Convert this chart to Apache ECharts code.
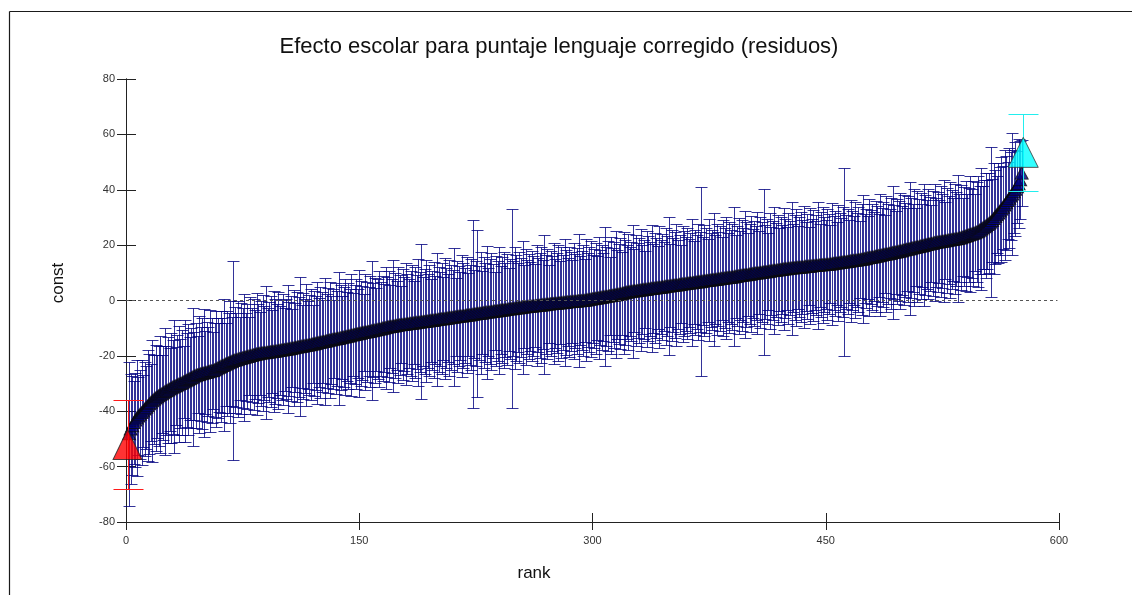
<!DOCTYPE html>
<html>
<head>
<meta charset="utf-8">
<title>Efecto escolar</title>
<script src="https://cdn.jsdelivr.net/npm/echarts@6/dist/echarts.min.js"></script>
<style>
  html, body { margin: 0; padding: 0; background: #fff; }
  #chart { width: 1132px; height: 595px; }
</style>
</head>
<body>
<div id="chart"></div>
<script>
// School effects (residual language score), sorted ascending by rank 1..577
const effect = [
  -52.0,
  -48.1, -46.4, -45.2, -44.1, -43.2, -42.4, -41.7, -41.1, -40.5,
  -39.9, -39.2, -38.6, -38.0, -37.3, -36.8, -36.2, -35.7, -35.2, -34.8,
  -34.4, -34.0, -33.7, -33.3, -32.9, -32.6, -32.3, -32.0, -31.6, -31.3, -31.0, -30.8, -30.5, -30.2, -30.0,
  -29.7, -29.4, -29.1, -28.8, -28.5, -28.2, -27.9, -27.6, -27.3, -27.0,
  -26.8, -26.7, -26.5, -26.3, -26.2, -26.0, -25.9, -25.7, -25.5, -25.4, -25.3,
  -25.0, -24.7, -24.4, -24.1, -23.8, -23.5, -23.3, -23.0, -22.7, -22.5, -22.2, -22.0, -21.7,
  -21.5, -21.4, -21.2, -21.0, -20.9, -20.7, -20.5, -20.4, -20.2, -20.1, -19.9, -19.8, -19.6, -19.5, -19.3,
  -19.2, -19.1, -19.0, -18.9, -18.9, -18.8, -18.7, -18.6, -18.5, -18.4, -18.4, -18.3, -18.2, -18.1, -18.0,
  -17.9, -17.8, -17.7, -17.6, -17.5, -17.4, -17.3, -17.2, -17.1, -16.9, -16.8, -16.7, -16.6, -16.5, -16.4, -16.3, -16.2,
  -16.1, -16.0, -15.8, -15.7, -15.6, -15.5, -15.3, -15.2, -15.1, -14.9, -14.8, -14.7, -14.6, -14.4, -14.3, -14.2, -14.0, -13.9, -13.8, -13.7, -13.6, -13.5, -13.3, -13.2,
  -13.1, -12.9, -12.8, -12.7, -12.5, -12.4, -12.3, -12.1, -12.0, -11.9, -11.8, -11.6, -11.5, -11.4, -11.3, -11.2, -11.1, -10.9, -10.8,
  -10.7, -10.6, -10.4, -10.3, -10.2, -10.0, -9.9, -9.8, -9.6, -9.5, -9.4, -9.3, -9.2, -9.1, -9.0,
  -8.9, -8.8, -8.7, -8.7, -8.6, -8.5, -8.4, -8.3, -8.2, -8.2, -8.1, -8.0, -7.9, -7.9, -7.8, -7.7, -7.6, -7.6, -7.5,
  -7.4, -7.3, -7.2, -7.2, -7.1, -7.0, -6.9, -6.8, -6.7, -6.6, -6.6, -6.5, -6.4, -6.3, -6.2, -6.1, -6.1, -6.0, -5.9, -5.8,
  -5.7, -5.6, -5.6, -5.5, -5.4, -5.3, -5.2, -5.2, -5.1, -5.0, -4.9, -4.8,
  -4.7, -4.6, -4.6, -4.5, -4.4, -4.3, -4.2, -4.2, -4.1, -4.0, -3.9, -3.8, -3.8, -3.7, -3.6, -3.5, -3.4, -3.4, -3.3, -3.2,
  -3.1, -3.0, -3.0, -2.9, -2.8, -2.7, -2.6, -2.6, -2.5, -2.4,
  -2.3, -2.3, -2.2, -2.1, -2.1, -2.0, -1.9, -1.9, -1.8, -1.7, -1.7, -1.6, -1.5, -1.5, -1.4, -1.3, -1.3, -1.2,
  -1.1, -1.1, -1.0, -1.0, -0.9, -0.8, -0.8, -0.7, -0.7, -0.6, -0.5, -0.5, -0.4, -0.4, -0.3, -0.3, -0.2, -0.1, -0.1, 0.0, 0.0,
  0.1, 0.2, 0.3, 0.4, 0.5, 0.6, 0.7, 0.8, 0.9, 1.0, 1.1, 1.2, 1.3, 1.4, 1.5, 1.6, 1.7, 1.8, 1.9, 2.0, 2.1, 2.2, 2.3, 2.4, 2.6, 2.7, 2.9, 3.0,
  3.1, 3.2, 3.3, 3.4, 3.5, 3.5, 3.6, 3.7, 3.8, 3.9, 4.0, 4.0, 4.1, 4.2, 4.3, 4.4, 4.4, 4.5, 4.6, 4.7, 4.8, 4.8, 4.9, 5.0,
  5.1, 5.2, 5.2, 5.3, 5.4, 5.5, 5.6, 5.6, 5.7, 5.8, 5.9, 6.0, 6.0, 6.1, 6.2, 6.3, 6.4, 6.4, 6.5, 6.6,
  6.7, 6.8, 6.8, 6.9, 7.0, 7.1, 7.2, 7.2, 7.3, 7.4, 7.5, 7.6, 7.6, 7.7, 7.8, 7.9, 8.0, 8.0, 8.1, 8.2, 8.3, 8.4, 8.4, 8.5, 8.6, 8.7, 8.8, 8.9, 9.0,
  9.1, 9.2, 9.3, 9.3, 9.4, 9.5, 9.6, 9.7, 9.8, 9.9, 9.9, 10.0, 10.1, 10.2, 10.3, 10.4, 10.4, 10.5, 10.6, 10.7, 10.8, 10.9, 10.9, 11.0, 11.1, 11.2, 11.3, 11.4,
  11.5, 11.5, 11.6, 11.7, 11.7, 11.8, 11.8, 11.9, 12.0, 12.0, 12.1, 12.1, 12.2, 12.3, 12.3, 12.4, 12.4, 12.5, 12.6, 12.6, 12.7, 12.7, 12.8, 12.9, 12.9, 13.0, 13.0, 13.1, 13.1, 13.2,
  13.3, 13.4, 13.5, 13.5, 13.6, 13.7, 13.8, 13.9, 14.0, 14.0, 14.1, 14.2, 14.3, 14.4, 14.5, 14.5, 14.6, 14.7, 14.8, 14.9, 15.0,
  15.1, 15.2, 15.4, 15.5, 15.6, 15.7, 15.8, 16.0, 16.1, 16.2, 16.3, 16.4, 16.6, 16.7, 16.8, 16.9, 17.0, 17.1, 17.3, 17.4,
  17.5, 17.6, 17.8, 17.9, 18.0, 18.2, 18.3, 18.5, 18.6, 18.7, 18.9, 19.0, 19.1, 19.3, 19.4, 19.5, 19.7, 19.8, 19.9, 20.1, 20.2, 20.4, 20.5,
  20.6, 20.7, 20.9, 21.0, 21.1, 21.2, 21.3, 21.4, 21.5, 21.6, 21.7, 21.8, 21.9, 22.0, 22.1, 22.2, 22.3, 22.4, 22.6, 22.7, 22.9,
  23.1, 23.3, 23.5, 23.7, 23.9, 24.1, 24.3, 24.5, 24.7,
  25.0, 25.4, 25.8, 26.2, 26.6, 27.0, 27.4, 27.9, 28.3,
  28.9, 29.6, 30.3, 31.0, 31.6, 32.3, 33.0, 33.7,
  34.5, 35.3, 36.1, 36.9, 37.7, 38.5,
  39.3, 40.2, 41.1, 42.2, 43.6, 46.0,
  53.5
];

// Half-width of each school's confidence interval, same order as effect
const halfWidth = [
  16, 26, 20, 18, 15, 17, 21, 14, 16, 19, 13, 17, 15, 20, 18, 14, 22, 16, 19, 15,
  18, 21, 14, 17, 23, 16, 19, 15, 20, 17, 24, 14, 18, 21, 16, 19, 13, 22, 17, 20,
  15, 18, 25, 16, 19, 14, 21, 17, 20, 23, 15, 18, 16, 22, 19, 14, 17, 21, 18, 16,
  20, 17, 24, 15, 19, 18, 22, 16, 36, 19, 17, 21, 15, 20, 18, 23, 16, 19, 14, 21,
  17, 20, 16, 22, 18, 15, 19, 21, 17, 24, 16, 18, 20, 15, 22, 19, 17, 21, 16, 18,
  20, 15, 18, 23, 17, 19, 14, 21, 16, 20, 18, 25, 15, 19, 17, 22, 16, 18, 20, 14,
  19, 17, 22, 16, 20, 18, 15, 23, 17, 19, 21, 16, 18, 14, 20, 17, 24, 19, 15, 18,
  21, 16, 19, 17, 22, 15, 18, 20, 16, 23, 19, 17, 14, 21, 18, 16, 20, 25, 17, 19,
  15, 18, 21, 17, 19, 16, 22, 18, 20, 15, 17, 24, 19, 16, 21, 18, 14, 20, 17, 22,
  18, 16, 19, 21, 15, 20, 17, 23, 18, 28, 16, 19, 22, 17, 20, 15, 18, 21, 16, 24,
  19, 17, 20, 15, 22, 18, 16, 21, 19, 17, 25, 14, 20, 18, 16, 22, 19, 17, 21, 15,
  18, 20, 34, 16, 19, 30, 17, 22, 15, 20, 18, 24, 16, 19, 21, 17, 14, 20, 18, 23,
  16, 19, 21, 17, 20, 15, 18, 36, 17, 22, 19, 16, 20, 18, 24, 15, 21, 17, 19, 16,
  20, 18, 15, 22, 17, 19, 21, 16, 25, 18, 20, 14, 19, 17, 22, 16, 18, 21, 15, 20,
  17, 23, 19, 16, 20, 18, 15, 21, 17, 19, 24, 16, 18, 20, 15, 22, 17, 19, 21, 16,
  18, 20, 15, 22, 17, 19, 16, 25, 18, 20, 14, 21, 17, 19, 23, 16, 18, 20, 15, 22,
  19, 17, 21, 16, 18, 24, 15, 20, 17, 19, 22, 16, 18, 14, 21, 19, 17, 23, 16, 20,
  18, 15, 22, 17, 19, 16, 21, 18, 25, 15, 20, 17, 19, 22, 16, 18, 14, 21, 19, 17,
  20, 16, 18, 23, 15, 19, 17, 21, 18, 34, 16, 20, 19, 15, 22, 17, 18, 24, 16, 20,
  17, 19, 15, 21, 18, 22, 16, 20, 17, 19, 25, 15, 18, 21, 16, 20, 17, 23, 19, 15,
  18, 21, 16, 19, 17, 22, 15, 20, 18, 30, 17, 19, 14, 21, 16, 18, 23, 17, 20, 15,
  19, 16, 22, 18, 15, 20, 17, 24, 16, 19, 21, 15, 18, 20, 17, 22, 16, 19, 14, 21,
  17, 20, 16, 18, 23, 15, 19, 21, 17, 16, 20, 18, 14, 22, 17, 19, 15, 21, 18, 16,
  20, 34, 17, 19, 15, 22, 18, 16, 21, 17, 19, 14, 20, 23, 16, 18, 15, 21, 17, 19,
  16, 20, 18, 15, 22, 17, 19, 14, 21, 18, 16, 20, 24, 17, 15, 19, 18, 21, 16, 20,
  17, 15, 19, 24, 18, 16, 21, 14, 20, 17, 19, 15, 22, 18, 16, 20, 17, 14, 19, 21,
  16, 18, 15, 20, 17, 22, 14, 19, 16, 21, 18, 15, 20, 17, 23, 16, 19, 14, 18, 20,
  15, 17, 21, 16, 19, 14, 18, 20, 16, 22, 15, 17, 19, 16, 18, 27, 15, 20, 17, 14,
  18, 16, 19, 15, 20, 17, 14, 18, 16, 22, 15, 17, 13, 16, 14, 12, 14
];

const titleText = 'Efecto escolar para puntaje lenguaje corregido (residuos)';
const xName = 'rank';
const yName = 'const';

// Build [rank, estimate, lower, upper] rows
const rows = effect.map((v, i) => [i + 1, v, v - halfWidth[i], v + halfWidth[i]]);
const lowest = rows[0];
const highest = rows[rows.length - 1];
const middle = rows.slice(1, rows.length - 1);

const FONT = '"Liberation Sans", Arial, Helvetica, sans-serif';

// snap to the pixel grid so 1px lines stay crisp
const snap = v => Math.round(v) + 0.5;

function capRenderer(color, capHalf) {
  return function (params, api) {
    const x = api.value(0);
    const top = api.coord([x, api.value(3)]);
    const bot = api.coord([x, api.value(2)]);
    const cx = snap(top[0]);
    const ty = snap(top[1]);
    const by = snap(bot[1]);
    const style = { stroke: color, lineWidth: 1, fill: null };
    return {
      type: 'group',
      children: [
        { type: 'line', shape: { x1: cx, y1: ty, x2: cx, y2: by }, style },
        { type: 'line', shape: { x1: cx - capHalf, y1: ty, x2: cx + capHalf, y2: ty }, style },
        { type: 'line', shape: { x1: cx - capHalf, y1: by, x2: cx + capHalf, y2: by }, style }
      ]
    };
  };
}

const axisCommon = {
  type: 'value',
  splitLine: { show: false },
  axisLine: { show: true, onZero: false, lineStyle: { color: '#222', width: 1 } }
};

const chart = echarts.init(document.getElementById('chart'), null, { renderer: 'canvas' });

chart.setOption({
  backgroundColor: '#ffffff',
  animation: false,
  title: {
    text: titleText,
    left: 554,
    top: 31,
    textAlign: 'center',
    textStyle: { fontFamily: FONT, fontSize: 22, fontWeight: 'normal', color: '#111' }
  },
  grid: { left: 126, right: 73, top: 79, bottom: 73, containLabel: false },
  xAxis: [
    Object.assign({}, axisCommon, {
      min: 0, max: 600, interval: 150,
      axisTick: { show: true, inside: false, length: 8, lineStyle: { color: '#222' } },
      axisLabel: { fontFamily: FONT, fontSize: 11, color: '#333', margin: 13 }
    }),
    Object.assign({}, axisCommon, {
      min: 0, max: 600, interval: 150, position: 'bottom', offset: 0,
      axisTick: { show: true, inside: true, length: 9, lineStyle: { color: '#222' } },
      axisLabel: { show: false }
    })
  ],
  yAxis: [
    Object.assign({}, axisCommon, {
      min: -80, max: 80, interval: 20,
      axisTick: { show: true, inside: false, length: 9, lineStyle: { color: '#222' } },
      axisLabel: { fontFamily: FONT, fontSize: 11, color: '#333', margin: 11 }
    }),
    Object.assign({}, axisCommon, {
      min: -80, max: 80, interval: 20, position: 'left', offset: 0,
      axisTick: { show: true, inside: true, length: 10, lineStyle: { color: '#222' } },
      axisLabel: { show: false }
    })
  ],
  graphic: [
    // outer frame (top and left edges)
    { type: 'line', shape: { x1: 9.5, y1: 11.5, x2: 1132, y2: 11.5 }, style: { stroke: '#1a1a1a', lineWidth: 1.2 }, z: 100 },
    { type: 'line', shape: { x1: 9.5, y1: 11.5, x2: 9.5, y2: 595 }, style: { stroke: '#1a1a1a', lineWidth: 1.2 }, z: 100 },
    // axis titles
    {
      type: 'text', x: 534, y: 573,
      style: { text: xName, font: '17px ' + FONT, fill: '#111', textAlign: 'center', textVerticalAlign: 'middle' }
    },
    {
      type: 'text', x: 58, y: 283, rotation: Math.PI / 2,
      style: { text: yName, font: '17px ' + FONT, fill: '#111', textAlign: 'center', textVerticalAlign: 'middle' }
    }
  ],
  series: [
    {
      // confidence intervals for all intermediate schools
      type: 'custom',
      name: 'ci',
      renderItem: capRenderer('rgba(0,0,128,0.8)', 6),
      data: middle,
      encode: { x: 0, y: [2, 3] },
      z: 2,
      silent: true,
      markLine: {
        silent: true,
        symbol: ['none', 'none'],
        label: { show: false },
        lineStyle: { color: '#555', type: [3, 3], width: 1 },
        data: [[{ coord: [0, 0] }, { coord: [599, 0] }]]
      }
    },
    {
      type: 'scatter',
      name: 'effect',
      data: middle.map(r => [r[0], r[1]]),
      symbol: 'triangle',
      symbolSize: [13, 12],
      itemStyle: { color: '#000080', borderColor: '#0a0a0a', borderWidth: 1 },
      z: 3,
      silent: true
    },
    {
      type: 'custom',
      name: 'ci-low',
      renderItem: capRenderer('#ff1a1a', 15),
      data: [lowest],
      encode: { x: 0, y: [2, 3] },
      z: 4,
      silent: true
    },
    {
      type: 'custom',
      name: 'ci-high',
      renderItem: capRenderer('#22eeee', 15),
      data: [highest],
      encode: { x: 0, y: [2, 3] },
      z: 4,
      silent: true
    },
    {
      type: 'scatter',
      name: 'lowest',
      data: [[lowest[0], lowest[1]]],
      symbol: 'triangle',
      symbolSize: [29, 30],
      itemStyle: { color: '#ff0000', borderColor: '#222', borderWidth: 1 },
      z: 5,
      silent: true
    },
    {
      type: 'scatter',
      name: 'highest',
      data: [[highest[0], highest[1]]],
      symbol: 'triangle',
      symbolSize: [30, 30],
      itemStyle: { color: '#00ffff', borderColor: '#333', borderWidth: 1 },
      z: 5,
      silent: true
    }
  ]
});
</script>
</body>
</html>
